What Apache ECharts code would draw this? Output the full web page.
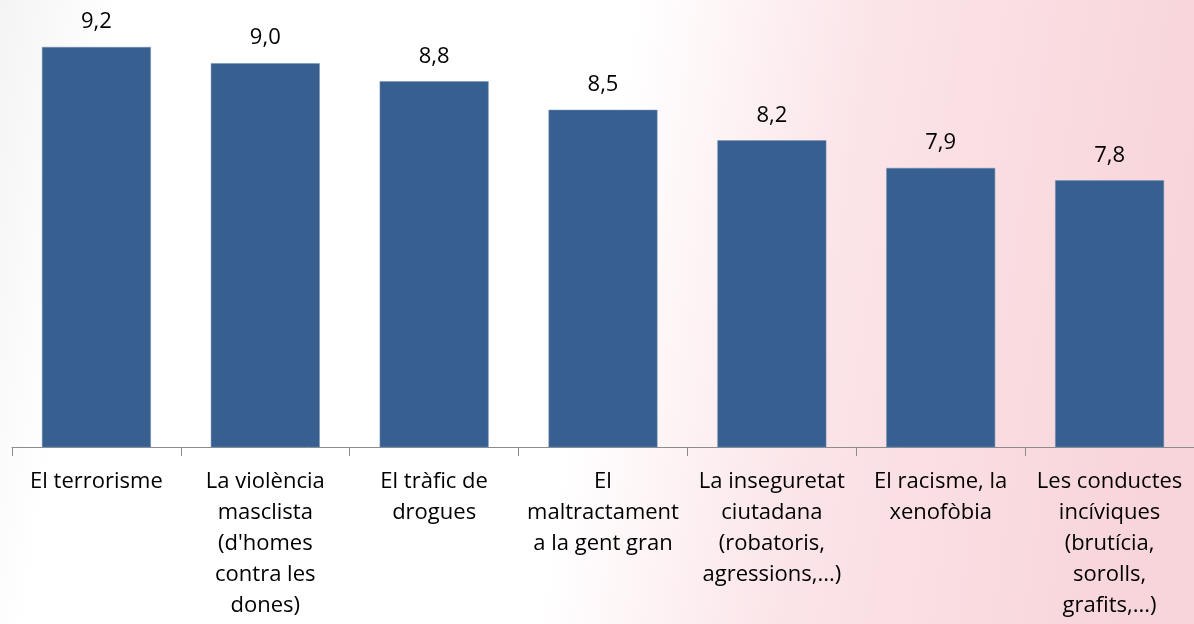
<!DOCTYPE html>
<html>
<head>
    <meta charset="utf-8" />
    <title>ECharts</title>
    <script src="https://cdn.jsdelivr.net/npm/echarts@6.0.0/dist/echarts.min.js"></script>
    <style>
        html, body { margin: 0; padding: 0; background: #fff; }
    </style>
</head>
<body>
    <div id="main" style="width: 1194px;height:624px;"></div>
    <script type="text/javascript">
        // categories (labels wrapped as in the original)
        var categories = [
            'El terrorisme',
            'La violència\nmasclista\n(d\'homes\ncontra les\ndones)',
            'El tràfic de\ndrogues',
            'El\nmaltractament\na la gent gran',
            'La inseguretat\nciutadana\n(robatoris,\nagressions,...)',
            'El racisme, la\nxenofòbia',
            'Les conductes\nincíviques\n(brutícia,\nsorolls,\ngrafits,...)'
        ];
        // mean scores
        var scores = [9.2, 9.03, 8.84, 8.54, 8.22, 7.93, 7.8];

        var myChart = echarts.init(document.getElementById('main'));

        var font = '"Open Sans", "Noto Sans", sans-serif';

        var option = {
            backgroundColor: {
                type: 'linear', x: 0, y: 0, x2: 1, y2: 0.3,
                colorStops: [
                    { offset: 0, color: '#f4f4f4' },
                    { offset: 0.1, color: '#ffffff' },
                    { offset: 0.52, color: '#ffffff' },
                    { offset: 0.72, color: '#fbe4e8' },
                    { offset: 1, color: '#f8d5da' }
                ]
            },
            animation: false,
            grid: {
                left: 12,
                right: 0,
                top: 47,
                bottom: 177
            },
            xAxis: {
                type: 'category',
                data: categories,
                axisLine: { lineStyle: { color: '#8c8c8c', width: 1 } },
                axisTick: { show: true, length: 9, lineStyle: { color: '#8c8c8c' } },
                axisLabel: {
                    interval: 0,
                    color: '#000',
                    fontFamily: font,
                    fontSize: 22,
                    lineHeight: 31,
                    margin: 19
                }
            },
            yAxis: {
                type: 'value',
                min: 5,
                max: 9.2,
                show: false,
                splitLine: { show: false }
            },
            series: [
                {
                    type: 'bar',
                    data: scores,
                    barWidth: '64.5%',
                    itemStyle: {
                        color: '#375f8f',
                        borderColor: '#6f8fb5',
                        borderWidth: 0.5
                    },
                    label: {
                        show: true,
                        position: 'top',
                        distance: 14,
                        color: '#000',
                        fontFamily: font,
                        fontSize: 22,
                        formatter: function (p) {
                            return p.value.toFixed(1).replace('.', ',');
                        }
                    }
                }
            ]
        };

        myChart.setOption(option);
    </script>
</body>
</html>
